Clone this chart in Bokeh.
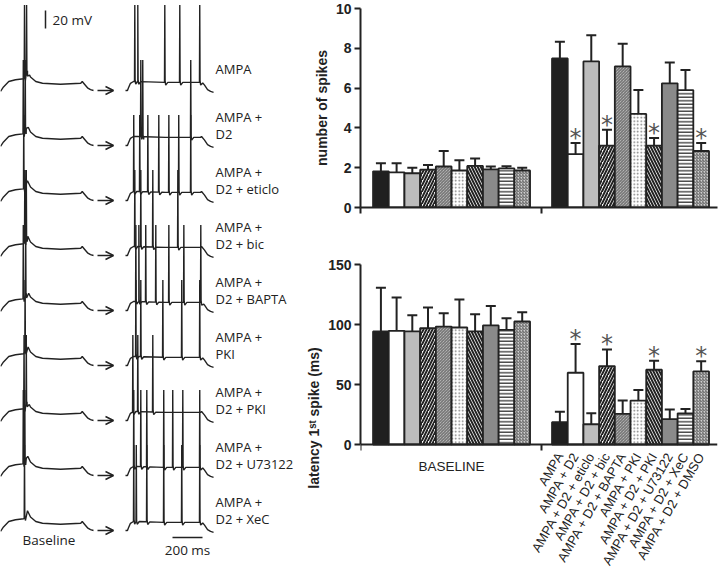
import numpy as np
from bokeh.plotting import figure
from bokeh.models import (ColumnDataSource, Range1d, FixedTicker, Whisker, TeeHead,
                          Arrow, OpenHead, LinearAxis)
from bokeh.layouts import row, column
from bokeh.embed import file_html
from bokeh.resources import INLINE
from bokeh.core.properties import value

# ------------------------------------------------------------------ data
CONDITIONS = ["AMPA", "AMPA + D2", "AMPA + D2 + eticlo", "AMPA + D2 + bic",
              "AMPA + D2 + BAPTA", "AMPA + PKI", "AMPA + D2 + PKI",
              "AMPA + D2 + U73122", "AMPA + D2 + XeC", "AMPA + D2 + DMSO"]
GROUP_LABEL = "BASELINE"

SPIKES_BASE = [1.82, 1.77, 1.72, 1.90, 2.06, 1.86, 2.09, 1.92, 1.97, 1.86]
SPIKES_BASE_SEM = [0.40, 0.45, 0.28, 0.24, 0.78, 0.51, 0.37, 0.14, 0.10, 0.14]
SPIKES_DRUG = [7.49, 2.68, 7.34, 3.11, 7.09, 4.70, 3.11, 6.24, 5.90, 2.84]
SPIKES_DRUG_SEM = [0.84, 0.56, 1.32, 0.80, 1.14, 1.20, 0.38, 1.05, 1.01, 0.40]
SPIKES_SIG = [False, True, False, True, False, False, True, False, False, True]

LAT_BASE = [94.2, 94.7, 94.2, 97.0, 98.3, 97.5, 94.2, 99.2, 95.6, 102.5]
LAT_BASE_SEM = [36.5, 27.7, 13.6, 17.1, 11.1, 23.3, 14.4, 16.3, 9.7, 7.7]
LAT_DRUG = [18.6, 59.8, 16.9, 65.4, 25.5, 36.6, 62.3, 21.1, 26.0, 60.9]
LAT_DRUG_SEM = [8.8, 23.9, 9.1, 13.8, 11.1, 8.8, 7.5, 8.0, 3.6, 8.4]
LAT_SIG = [False, True, False, True, False, False, True, False, False, True]

SPIKE_TICKS = [0, 2, 4, 6, 8, 10]
LAT_TICKS = [0, 50, 100, 150]

# example traces (left panel): envelope (ms, mV re rest) and spike times (ms)
TRACE_LABELS = [["AMPA"], ["AMPA +", "D2"], ["AMPA +", "D2 + eticlo"],
                ["AMPA +", "D2 + bic"], ["AMPA +", "D2 + BAPTA"], ["AMPA +", "PKI"],
                ["AMPA +", "D2 + PKI"], ["AMPA +", "D2 + U73122"], ["AMPA +", "D2 + XeC"]]
BASE_ENV_T = [0, 20, 55, 100, 155, 180, 200, 235, 280, 400, 535, 545, 560, 580, 600, 620]
BASE_ENV_V = [-1, 4, 10, 12, 13, 22, 15, 10, 8, 7, 8, 10, 7, 3, 1, 0]
DRUG_ENV_T = [0, 13, 20, 33, 53, 80, 267, 400, 500, 507, 527, 547, 567, 587]
DRUG_ENV_V = [0, 0, 3, 8, 10, 10, 9, 9, 9, 10, 6, 1, -1, -2]
BASE_SPIKES = [[158, 172], [150, 163], [153], [160, 170], [150, 166],
               [162], [155, 170], [150, 160], [158]]
DRUG_SPIKES = [[60, 80, 260, 360, 493],
               [100, 113, 433],
               [53, 93, 147, 220, 287, 353, 433],
               [60, 100, 180, 347],
               [67, 87, 133, 200, 287, 387, 500],
               [67, 100, 247, 373, 493],
               [47, 80, 180],
               [53, 100, 140, 253, 313, 380, 493],
               [53, 70, 140, 253, 373, 493]]
SPIKE_PEAK = 95     # mV above rest
SCALE_MV = 20
SCALE_MS = 200

# ------------------------------------------------------------------ styles
INK = "#222222"
AX_FONT = "Liberation Sans"
TR_FONT = "Open Sans"
FILLS = ["#202020", "#ffffff", "#bcbcbc", "#ffffff", "#cfcfcf",
         "#ffffff", "#ffffff", "#8a8a8a", "#ffffff", "#cfcfcf"]
HATCHES = [" ", " ", " ", "/", "\\", ".", "\\", " ", "-", "/"]
HATCH_SCALES = [1, 1, 1, 6, 3, 3.5, 6, 1, 3.5, 3]
HATCH_WEIGHTS = [1, 1, 1, 2.0, 0.8, 1.0, 2.0, 1, 1.2, 0.8]
HATCH_COLORS = [INK, INK, INK, INK, "#444444", "#777777", INK, INK, INK, "#444444"]
GROUP_START = [0.8, 12.2]
BOUNDARY_TICKS = [0, 11.5]
X_END = 22.74

MS_PX = 30 / 200
MV_PX = 18 / 20
ROW0, ROW_STEP = 90, 55
X_BASE, X_DRUG = 0, 125


def style_axes(p):
    p.grid.visible = False
    for ax in p.axis:
        ax.axis_line_width = 2
        ax.axis_line_color = INK
        ax.major_tick_line_width = 2
        ax.major_tick_line_color = INK
        ax.major_tick_out = 6
        ax.major_tick_in = 0
        ax.minor_tick_line_width = 2
        ax.minor_tick_line_color = INK
        ax.minor_tick_out = 6
        ax.minor_tick_in = 0
        ax.major_label_text_font = AX_FONT
        ax.major_label_text_font_style = "bold"
        ax.major_label_text_font_size = "14px"
        ax.major_label_text_color = INK
        ax.major_label_standoff = 3
        ax.axis_label_text_font = AX_FONT
        ax.axis_label_text_font_style = "bold"
        ax.axis_label_text_font_size = "14px"
        ax.axis_label_text_color = INK
        ax.axis_label_standoff = 3


def draw_group(p, vals, sems, sig, g):
    xs = [GROUP_START[g] + 0.5 + i for i in range(len(vals))]
    upper = [v + s for v, s in zip(vals, sems)]
    src = ColumnDataSource(dict(x=xs, top=vals, upper=upper, fill=FILLS, hatch=HATCHES,
                                hs=HATCH_SCALES, hw=HATCH_WEIGHTS, hc=HATCH_COLORS))
    p.add_layout(Whisker(source=src, base="x", lower="top", upper="upper",
                         dimension="height", line_color=INK, line_width=2,
                         lower_head=None,
                         upper_head=TeeHead(size=10, line_color=INK, line_width=2)))
    p.vbar(x="x", top="top", bottom=0, width=1.0, source=src, fill_color="fill",
           hatch_pattern="hatch", hatch_scale="hs", hatch_weight="hw", hatch_color="hc",
           line_color=INK, line_width=1.8)
    star = ColumnDataSource(dict(x=[x for x, s in zip(xs, sig) if s],
                                 y=[u for u, s in zip(upper, sig) if s]))
    p.text(x="x", y="y", text=value("*"), source=star, text_font=value("DejaVu Sans"),
           text_font_size="24px", text_align="center", text_baseline="alphabetic",
           text_color="#555555", y_offset=-5)
    return xs


# ------------------------------------------------------------------ top chart
top = figure(width=424, height=237, x_range=Range1d(0, X_END), y_range=Range1d(0, 10),
             min_border_left=64, min_border_right=3, min_border_top=8, min_border_bottom=30,
             output_backend="svg", toolbar_location=None, outline_line_color=None)
draw_group(top, SPIKES_BASE, SPIKES_BASE_SEM, [False] * 10, 0)
draw_group(top, SPIKES_DRUG, SPIKES_DRUG_SEM, SPIKES_SIG, 1)
top.yaxis.ticker = FixedTicker(ticks=SPIKE_TICKS)
top.yaxis.axis_label = "number of spikes"
top.xaxis.ticker = FixedTicker(ticks=[], minor_ticks=BOUNDARY_TICKS)
style_axes(top)

# ------------------------------------------------------------------ bottom chart
bot = figure(width=424, height=334, x_range=top.x_range, y_range=Range1d(-105.8, 150),
             x_axis_location=None,
             min_border_left=64, min_border_right=3, min_border_top=27, min_border_bottom=0,
             output_backend="svg", toolbar_location=None, outline_line_color=None)
xax = LinearAxis(fixed_location=0, ticker=FixedTicker(ticks=[], minor_ticks=BOUNDARY_TICKS))
bot.add_layout(xax, "below")
g1 = draw_group(bot, LAT_BASE, LAT_BASE_SEM, [False] * 10, 0)
g2 = draw_group(bot, LAT_DRUG, LAT_DRUG_SEM, LAT_SIG, 1)
bot.yaxis.ticker = FixedTicker(ticks=LAT_TICKS)
bot.yaxis.bounds = (0, 150)
bot.yaxis.axis_label = "latency 1\u02e2\u1d57 spike (ms)"
style_axes(bot)
bot.text(x=g2, y=[-7.5] * len(g2), text=CONDITIONS, angle=np.deg2rad(60),
         text_align="right", text_baseline="middle", text_font=value(AX_FONT),
         text_font_size="13px", text_color=INK)
bot.text(x=[(g1[0] + g1[-1]) / 2], y=[-18], text=[GROUP_LABEL], text_align="center",
         text_baseline="middle", text_font=value(AX_FONT), text_font_size="13.5px",
         text_color=INK)

# ------------------------------------------------------------------ traces panel
left = figure(width=296, height=571, x_range=Range1d(0, 296), y_range=Range1d(571, 0),
              min_border=0, x_axis_type=None, y_axis_type=None, outline_line_color=None,
              output_backend="svg", toolbar_location=None)
left.grid.visible = False


def trace_xy(env_t, env_v, spikes, x0, y0):
    pts = []
    wins = [(ts - 1, ts + 22) for ts in spikes]
    for t, v in zip(env_t, env_v):
        if not any(a <= t <= b for a, b in wins):
            pts.append((t, v))
    for ts in spikes:
        base = float(np.interp(ts, env_t, env_v))
        after = float(np.interp(ts + 22, env_t, env_v))
        pts += [(ts, base), (ts + 2, SPIKE_PEAK), (ts + 4, base + 2),
                (ts + 8, base - 3), (ts + 22, after)]
    pts.sort(key=lambda q: q[0])
    xs = [x0 + t * MS_PX for t, _ in pts]
    ys = [y0 - v * MV_PX for _, v in pts]
    return xs, ys


txs, tys = [], []
ax0, ax1, ay = [], [], []
lx, ly, lt = [], [], []
for i in range(len(TRACE_LABELS)):
    y0 = ROW0 + i * ROW_STEP
    for env_t, env_v, sp, x0 in ((BASE_ENV_T, BASE_ENV_V, BASE_SPIKES[i], X_BASE),
                                 (DRUG_ENV_T, DRUG_ENV_V, DRUG_SPIKES[i], X_DRUG)):
        xs, ys = trace_xy(env_t, env_v, sp, x0, y0)
        txs.append(xs)
        tys.append(ys)
    ax0.append(97)
    ax1.append(113)
    ay.append(y0)
    lines = TRACE_LABELS[i]
    offs = [-22] if len(lines) == 1 else [-29, -12]
    for s, o in zip(lines, offs):
        lx.append(215)
        ly.append(y0 + o)
        lt.append(s)

left.multi_line(xs=txs, ys=tys, line_color=INK, line_width=1.4)
left.add_layout(Arrow(source=ColumnDataSource(dict(x0=ax0, x1=ax1, y=ay)),
                      x_start="x0", y_start="y", x_end="x1", y_end="y",
                      line_color=INK, line_width=1.5,
                      end=OpenHead(size=8, line_color=INK, line_width=1.5)))
left.text(x=lx, y=ly, text=lt, text_font=value(TR_FONT), text_font_size="13px",
          text_baseline="middle", text_align="left", text_color=INK)

# scale bars
left.segment(x0=[45, 172], y0=[10 + SCALE_MV * MV_PX, 537],
             x1=[45, 172 + SCALE_MS * MS_PX], y1=[10, 537], line_color=INK, line_width=1.5)
left.text(x=[52, 172 + SCALE_MS * MS_PX / 2], y=[19, 549],
          text=[f"{SCALE_MV} mV", f"{SCALE_MS} ms"], text_align=["left", "center"],
          text_baseline="middle", text_font=value(TR_FONT), text_font_size="13.5px",
          text_color=INK)
left.text(x=[22], y=[539], text=["Baseline"], text_align="left", text_baseline="middle",
          text_font=value(TR_FONT), text_font_size="13.5px", text_color=INK)

layout = row(left, column(top, bot))
open("out.html", "w").write(file_html(layout, INLINE))
